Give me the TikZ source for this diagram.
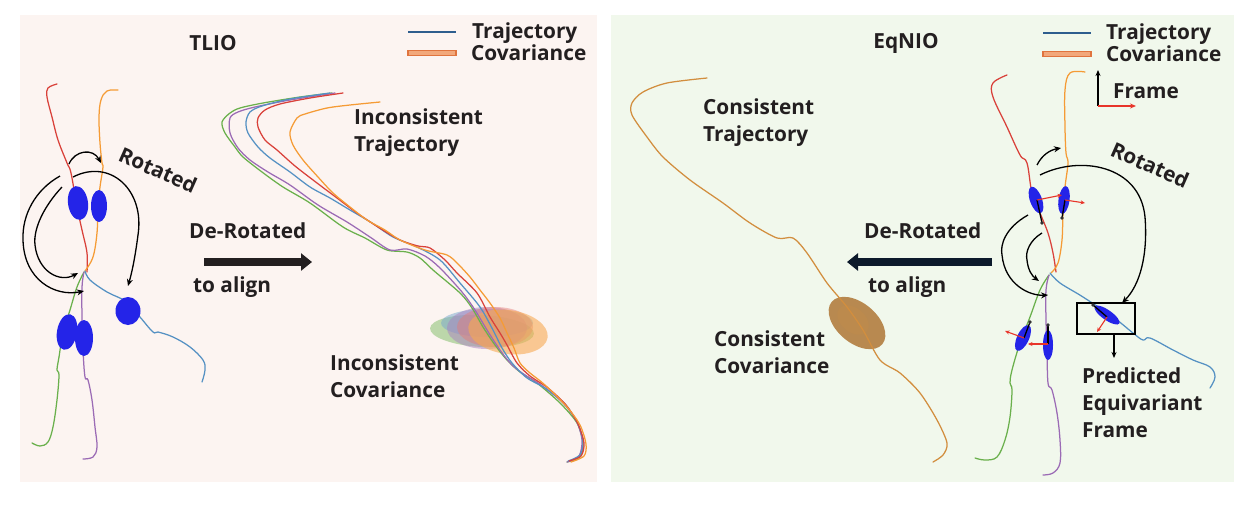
\documentclass[tikz,border=0pt]{standalone}
\usepackage{fontspec}
\setmainfont{Open Sans}
\usetikzlibrary{arrows.meta}
\definecolor{bgL}{RGB}{252,244,241}
\definecolor{bgR}{RGB}{241,248,236}
\definecolor{txt}{RGB}{35,31,32}
\definecolor{tred}{RGB}{217,65,58}
\definecolor{torange}{RGB}{245,155,53}
\definecolor{tblue}{RGB}{85,145,195}
\definecolor{tgreen}{RGB}{106,176,76}
\definecolor{tpurple}{RGB}{155,107,181}
\definecolor{eblue}{RGB}{36,36,232}
\definecolor{fred}{RGB}{232,53,42}
\definecolor{consist}{RGB}{210,142,62}
\definecolor{covbrown}{RGB}{184,137,80}
\definecolor{legblue}{RGB}{46,94,142}
\definecolor{legfill}{RGB}{242,168,123}
\definecolor{legdraw}{RGB}{224,116,62}
\definecolor{navy}{RGB}{12,26,43}
\begin{document}
\begin{tikzpicture}[x=1pt,y=-1pt,
  lab/.style={font=\fontsize{20.8}{27}\selectfont\bfseries, text=txt, inner sep=0pt, anchor=west, align=left},
  traj/.style={line width=1.25pt, line join=round, line cap=round},
  curv/.style={line width=1.3pt, -{Stealth[length=7pt,width=6pt]}},
  redax/.style={fred, line width=1.1pt, -{Stealth[length=4.5pt,width=4pt]}},
  blackax/.style={black, line width=1.3pt},
  bigarrow/.style={line width=8.5pt, -{Triangle[length=11pt,width=17pt]}}]
\useasboundingbox (0,0) rectangle (1248,504);
\fill[white] (0,0) rectangle (1248,504);
\fill[bgL] (20,15) rectangle (597,482);
\fill[bgR] (611,15) rectangle (1234,482);

% ---------------- LEFT PANEL ----------------
\node[lab, anchor=center] (tlio) at (213,43) {TLIO};
\coordinate (lgLa) at (408,32); \coordinate (lgLb) at (456,32);
\draw[legblue, line width=1.4pt] (lgLa) -- (lgLb);
\draw[legdraw, fill=legfill, line width=1.1pt] (408,50.5) rectangle (456,55.5);
\node[lab] (trajL) at (472,33) {Trajectory};
\node[lab] (covL) at (471,53) {Covariance};

% star trajectories
\draw[traj, tred] plot[smooth, tension=0.6] coordinates {(87,272) (87,253) (82,230) (77,207) (71,173) (67,163) (58,140) (52,117) (47,97) (48,88) (57,84)};
\draw[traj, torange] plot[smooth, tension=0.6] coordinates {(85,271) (93,257) (97,233) (98,207) (100,187) (103,167) (102,163) (100,143) (99,117) (101,100) (107,91) (118,90)};
\draw[traj, tblue] plot[smooth, tension=0.6] coordinates {(85,271) (90,280) (107,292) (127,302) (140,317) (153,332) (158,332) (173,337) (190,347) (203,360) (205,370) (202,382)};
\draw[traj, tgreen] plot[smooth, tension=0.6] coordinates {(84,272) (77,287) (70,310) (63,333) (59,357) (57,370) (59,375) (57,400) (53,427) (48,442) (40,446) (32,443)};
\draw[traj, tpurple] plot[smooth, tension=0.6] coordinates {(84,272) (82,287) (82,317) (83,350) (85,377) (88,380) (92,400) (95,427) (97,447) (93,457) (83,459)};

\fill[eblue, rotate around={8:(78,203)}] (78,203) ellipse [x radius=10, y radius=17];
\fill[eblue] (99,206) ellipse [x radius=8, y radius=16];
\fill[eblue, rotate around={-10:(67,332)}] (67,332) ellipse [x radius=10, y radius=18];
\fill[eblue] (84,338) ellipse [x radius=9, y radius=18];
\fill[eblue] (128,311) ellipse [x radius=12.5, y radius=14];

\draw[curv] (69,164) .. controls (75,150) and (93,148) .. (101,163);
\draw[curv] (73,177) .. controls (110,158) and (145,190) .. (138,235) .. controls (135,258) and (132,272) .. (128,286);
\draw[curv] (60,176) .. controls (35,190) and (22,215) .. (23,240) .. controls (24,280) and (55,297) .. (84,291);
\draw[curv] (62,187) .. controls (45,205) and (33,228) .. (35,245) .. controls (38,272) and (60,283) .. (78,273);
\node[lab, anchor=center, rotate=-24] (rotL) at (158,170) {Rotated};

\node[lab] (derotL) at (189,231) {De-Rotated};
\coordinate (arLa) at (204,262); \coordinate (arLb) at (312,262);
\draw[bigarrow, txt] (arLa) -- (arLb);
\node[lab] (alignL) at (193,287) {to align};

% covariances
\fill[tgreen!80!white, opacity=0.55, rotate around={-3:(482,331)}] (482,331) ellipse [x radius=52, y radius=16];
\fill[tblue!80!white, opacity=0.5] (487,323) ellipse [x radius=46, y radius=14];
\fill[tpurple!85!white, opacity=0.5] (487,328) ellipse [x radius=40, y radius=21];
\fill[tred!70!white, opacity=0.45] (495,327) ellipse [x radius=38, y radius=20];
\fill[torange!85!white, opacity=0.6, rotate around={-8:(508,332)}] (508,332) ellipse [x radius=40, y radius=22];

% inconsistent trajectories
\draw[traj, tgreen] plot[smooth, tension=0.5] coordinates {(332,93) (300,97) (263,103) (240,108) (230,113) (222,122) (225,133) (235,147) (243,157) (262,172) (283,187) (310,203) (343,227) (365,238) (387,250) (407,252) (420,258) (433,270) (460,293) (472,308) (483,327) (495,345) (507,360) (520,372) (537,383) (560,403) (577,423) (583,443) (580,457) (567,462)};
\draw[traj, tpurple] plot[smooth, tension=0.5] coordinates {(335,93) (290,100) (255,107) (238,112) (230,118) (230,133) (238,148) (250,160) (268,172) (290,185) (318,205) (347,222) (370,237) (390,250) (407,249) (425,256) (440,268) (462,292) (475,310) (487,330) (500,350) (512,365) (525,375) (541,385) (562,402) (576,420) (582,440) (579,456) (567,462)};
\draw[traj, tblue] plot[smooth, tension=0.5] coordinates {(330,93) (290,99) (262,106) (250,112) (246,122) (248,133) (258,147) (270,158) (290,172) (310,187) (330,198) (350,210) (372,223) (393,237) (417,247) (440,260) (460,283) (480,307) (493,330) (502,348) (512,363) (527,378) (545,388) (565,404) (578,424) (583,442) (580,455) (568,461)};
\draw[traj, tred] plot[smooth, tension=0.5] coordinates {(343,93) (310,98) (280,104) (265,110) (258,118) (258,127) (265,140) (277,150) (295,166) (317,183) (337,198) (357,213) (378,227) (400,240) (418,246) (430,248) (445,260) (457,273) (477,293) (490,317) (500,333) (507,345) (517,363) (530,376) (548,388) (566,405) (578,424) (584,443) (581,456) (569,461)};
\draw[traj, torange] plot[smooth, tension=0.5] coordinates {(380,102) (350,105) (327,108) (305,114) (297,118) (290,132) (293,145) (303,160) (318,177) (333,193) (350,207) (367,220) (385,230) (400,240) (425,250) (447,255) (458,264) (470,277) (480,290) (490,303) (500,318) (507,333) (514,348) (520,363) (530,373) (545,385) (567,407) (580,425) (586,444) (584,456) (571,462)};

\node[lab] (incT) at (354,132.5) {Inconsistent\\Trajectory};
\node[lab] (incC) at (330,376.5) {Inconsistent\\Covariance};

% ---------------- RIGHT PANEL ----------------
\node[lab, anchor=center] (eqnio) at (906,43) {EqNIO};
\coordinate (lgRa) at (1043,33); \coordinate (lgRb) at (1091,33);
\draw[legblue, line width=1.4pt] (lgRa) -- (lgRb);
\draw[legdraw, fill=legfill, line width=1.1pt] (1043,51.5) rectangle (1091,56.5);
\node[lab] (trajR) at (1106,34) {Trajectory};
\node[lab] (covR) at (1106,54) {Covariance};

\coordinate (fo) at (1098,106);
\coordinate (fy) at (1098,70);
\coordinate (fx) at (1136,106);
\draw[black, line width=1.3pt, -{Stealth[length=6pt,width=5pt]}] (fo) -- (fy);
\draw[fred, line width=1.3pt, -{Stealth[length=6pt,width=5pt]}] (fo) -- (fx);
\node[lab] (frameL) at (1113,91) {Frame};

% consistent covariance
\fill[covbrown, rotate around={50:(857,323)}] (857,323) ellipse [x radius=20, y radius=33];
\fill[covbrown!85!consist, rotate around={50:(853,320)}] (853,320) ellipse [x radius=12, y radius=18];
\draw[traj, consist] plot[smooth, tension=0.5] coordinates {(707,78) (667,83) (643,92) (632,103) (632,115) (647,137) (663,157) (690,180) (723,203) (750,223) (777,238) (793,238) (807,253) (827,283) (847,307) (863,330) (880,360) (900,373) (920,393) (937,420) (947,443) (943,455) (933,462)};
\node[lab] (conT) at (703,123) {Consistent\\Trajectory};
\node[lab] (conC) at (714,352) {Consistent\\Covariance};

\node[lab] (derotR) at (864,231) {De-Rotated};
\coordinate (arRa) at (992,262); \coordinate (arRb) at (847,262);
\draw[bigarrow, navy] (arRa) -- (arRb);
\node[lab] (alignR) at (868,287) {to align};

% star trajectories right
\draw[traj, tred] plot[smooth, tension=0.6] coordinates {(1056,272) (1053,253) (1048,233) (1040,213) (1032,193) (1027,163) (1020,155) (1007,127) (993,97) (993,83) (1007,75)};
\draw[traj, torange] plot[smooth, tension=0.6] coordinates {(1051,273) (1058,263) (1062,240) (1063,213) (1065,187) (1068,163) (1066,153) (1065,127) (1065,90) (1070,73) (1085,72)};
\draw[traj, tblue] plot[smooth, tension=0.6] coordinates {(1050,273) (1060,283) (1083,297) (1113,317) (1133,333) (1143,340) (1150,338) (1173,350) (1193,360) (1210,367) (1215,377) (1210,388)};
\draw[traj, tgreen] plot[smooth, tension=0.6] coordinates {(1049,275) (1040,290) (1030,317) (1020,343) (1012,370) (1010,383) (1012,390) (1010,417) (1005,440) (997,457) (985,460) (975,458)};
\draw[traj, tpurple] plot[smooth, tension=0.6] coordinates {(1049,275) (1046,290) (1046,320) (1047,350) (1048,383) (1052,390) (1057,413) (1060,440) (1060,463) (1053,473) (1043,475)};

% equivariant ellipses with frames
\fill[eblue, rotate around={20:(1036,200)}] (1036,200) ellipse [x radius=6, y radius=14];
\fill[eblue, rotate around={-8:(1064,200)}] (1064,200) ellipse [x radius=5.5, y radius=14];
\fill[eblue, rotate around={-25:(1023,338)}] (1023,338) ellipse [x radius=6, y radius=14];
\fill[eblue] (1048,345) ellipse [x radius=5, y radius=15];

\node[draw, line width=1.6pt, minimum width=58pt, minimum height=31pt, inner sep=0pt] (box) at (1106,318.5) {};
\fill[eblue, rotate around={55:(1107,315)}] (1107,315) ellipse [x radius=5, y radius=15];

\coordinate (c1) at (1037,200); \coordinate (d1) at (1042,223); \coordinate (r1) at (1062,195);
\coordinate (c2) at (1065,200); \coordinate (d2) at (1062,218); \coordinate (r2) at (1085,203);
\coordinate (c3) at (1024,338); \coordinate (d3) at (1030,322); \coordinate (r3) at (1005,331);
\coordinate (c4) at (1048,344); \coordinate (d4) at (1048,325); \coordinate (r4) at (1028,344);
\coordinate (c5) at (1107,317); \coordinate (d5) at (1093,305); \coordinate (r5) at (1097,332);
\foreach \i in {1,...,5}{
  \draw[blackax] (c\i) -- (d\i);
  \fill[black!80] (d\i) circle (1.8);
  \draw[redax] (c\i) -- (r\i);
}

\draw[curv] (1037,165) .. controls (1042,155) and (1050,150) .. (1061,148);
\draw[curv] (1040,175) .. controls (1080,155) and (1140,165) .. (1145,217) .. controls (1148,255) and (1140,285) .. (1122,303);
\draw[curv] (1028,215) .. controls (1005,228) and (1000,245) .. (1002,255) .. controls (1005,285) and (1030,296) .. (1048,295);
\draw[curv] (1042,233) .. controls (1030,240) and (1025,252) .. (1027,260) .. controls (1028,270) and (1032,276) .. (1039,281);
\node[lab, anchor=center, rotate=-24] (rotR) at (1150,165) {Rotated};

\coordinate (boxarr) at (1114,358);
\draw[black, line width=1.3pt, -{Stealth[length=6pt,width=5pt]}] (box.south -| boxarr) -- (boxarr);
\node[lab] (pred) at (1082,403) {Predicted\\Equivariant\\Frame};
\end{tikzpicture}
\end{document}
